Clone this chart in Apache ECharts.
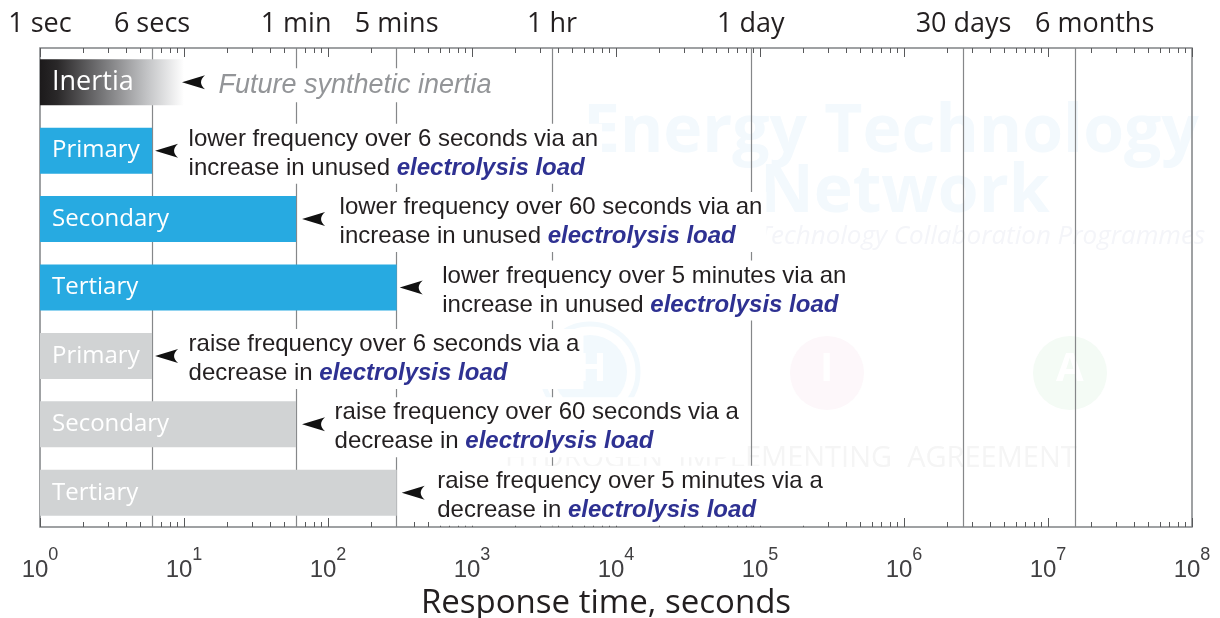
<!DOCTYPE html>
<html><head><meta charset="utf-8">
<script src="https://cdn.jsdelivr.net/npm/echarts@6/dist/echarts.min.js"></script>
<style>html,body{margin:0;padding:0;background:#fff}#c{width:1220px;height:618px}</style>
</head><body><div id="c"></div>
<script>
// ---------- data ----------
const rowKeys = ['inertia','upPrimary','upSecondary','upTertiary','downPrimary','downSecondary','downTertiary'];
const barNames = ['Inertia','Primary','Secondary','Tertiary','Primary','Secondary','Tertiary'];
const durations = [10, 6, 60, 300, 6, 60, 300];            // seconds
const groups = ['inertia','lower','lower','lower','raise','raise','raise'];
const noteLine1 = [
  'Future synthetic inertia',
  'lower frequency over 6 seconds via an',
  'lower frequency over 60 seconds via an',
  'lower frequency over 5 minutes via an',
  'raise frequency over 6 seconds via a',
  'raise frequency over 60 seconds via a',
  'raise frequency over 5 minutes via a'
];
const noteLine2 = ['', 'increase in unused ', 'increase in unused ', 'increase in unused ', 'decrease in ', 'decrease in ', 'decrease in '];
const noteEmph = ['', 'electrolysis load', 'electrolysis load', 'electrolysis load', 'electrolysis load', 'electrolysis load', 'electrolysis load'];
const milestoneSeconds = [1, 6, 60, 300, 3600, 86400, 2592000, 15552000];
const milestoneNames = ['1 sec','6 secs','1 min','5 mins','1 hr','1 day','30 days','6 months'];
const decadeTicks = [1, 10, 100, 1e3, 1e4, 1e5, 1e6, 1e7, 1e8];
const minorTicks = [];
for (let k = 0; k < 8; k++) for (let m = 2; m <= 9; m++) minorTicks.push(m * Math.pow(10, k));

// ---------- layout (pixels) ----------
const arrowShift = [-2, 3, 6, 3, 3, 6, 5];
const noteShift = [30, 32, 39, 41, 32, 34, 36];
const milestoneLabelPad = [0, 0, 0, 0, 0, 0, 0, 38];

const BLUE = '#27aae1', GRAY = '#d1d3d4', INK = '#231f20';
const chart = echarts.init(document.getElementById('c'), null, {renderer: 'canvas'});

function barColor(i) {
  if (groups[i] === 'inertia') {
    return new echarts.graphic.LinearGradient(0, 0, 1, 0, [
      {offset: 0, color: '#1c1a1b'}, {offset: 0.12, color: '#2a2829'},
      {offset: 0.45, color: '#7a7a7c'}, {offset: 0.75, color: '#c4c5c7'},
      {offset: 1, color: '#ffffff'}]);
  }
  return groups[i] === 'lower' ? BLUE : GRAY;
}
function noteText(i) {
  if (groups[i] === 'inertia') return '{f|' + noteLine1[i] + '}';
  return '{n|' + noteLine1[i] + '}\n{n|' + noteLine2[i] + '}{e|' + noteEmph[i] + '}';
}
function milestoneIndex(v) {
  let best = 0, bd = Infinity;
  milestoneSeconds.forEach((m, i) => { const d = Math.abs(Math.log10(m) - Math.log10(v)); if (d < bd) { bd = d; best = i; } });
  return best;
}
const arrowPath = 'path://M0,7 L23,0 Q15,7 23,14 Z';
const axisBase = {type: 'log', logBase: 10, min: 1, max: 1e8, interval: 1, gridIndex: 0,
  axisLine: {show: false, onZero: false}, splitLine: {show: false}};

const wmBlue = '#f3f9fd';
const option = {
  backgroundColor: '#fff',
  animation: false,
  graphic: {elements: [
    {type: 'text', z: -10, left: 583, top: 100, style: {text: 'Energy Technology', font: 'bold 66px "Open Sans"', fill: wmBlue}},
    {type: 'text', z: -10, left: 760, top: 160, style: {text: 'Network', font: 'bold 66px "Open Sans"', fill: wmBlue}},
    {type: 'text', z: -10, left: 758, top: 224, style: {text: 'Technology Collaboration Programmes', font: 'italic 26px "Open Sans"', fill: '#f4f5f9'}},
    {type: 'circle', z: -10, shape: {cx: 590, cy: 372, r: 37}, style: {fill: '#f2f9fd'}},
    {type: 'circle', z: -10, shape: {cx: 590, cy: 372, r: 48}, style: {fill: 'none', stroke: '#f2f9fd', lineWidth: 5}},
    {type: 'circle', z: -10, shape: {cx: 827, cy: 373, r: 37}, style: {fill: '#fdf7fa'}},
    {type: 'circle', z: -10, shape: {cx: 1070, cy: 373, r: 37}, style: {fill: '#f4fbf5'}},
    {type: 'text', z: -9, left: 576, top: 350, style: {text: 'H', font: 'bold 40px "Open Sans"', fill: '#fff'}},
    {type: 'text', z: -9, left: 820, top: 350, style: {text: 'I', font: 'bold 40px "Open Sans"', fill: '#fff'}},
    {type: 'text', z: -9, left: 1056, top: 350, style: {text: 'A', font: 'bold 40px "Open Sans"', fill: '#fff'}},
    {type: 'text', z: -10, left: 505, top: 444, style: {text: 'HYDROGEN  IMPLEMENTING  AGREEMENT', font: '29px "Open Sans"', fill: '#f5f5f5'}}
  ]},
  grid: {left: 40, right: 28, top: 48, bottom: 91, show: true, borderColor: '#808285', borderWidth: 1.5,
    backgroundColor: 'transparent', containLabel: false, outerBoundsMode: 'none'},
  xAxis: [
    Object.assign({}, axisBase, {
      position: 'bottom',
      axisTick: {show: true, inside: true, length: 9, lineStyle: {color: '#58595b', width: 1}},
      axisLabel: {show: true, margin: 19, formatter: v => '{b|10}{s|' + Math.round(Math.log10(v)) + '}',
        rich: {
          b: {fontFamily: '"Liberation Sans", Arial', fontSize: 24, color: '#414042', lineHeight: 36, verticalAlign: 'bottom'},
          s: {fontFamily: '"Liberation Sans", Arial', fontSize: 18, color: '#414042', lineHeight: 12, verticalAlign: 'top'}
        }},
      name: 'Response time, seconds', nameLocation: 'middle', nameGap: 49,
      nameTextStyle: {fontFamily: '"Open Sans"', fontSize: 33, color: INK, padding: [0, 20, 0, 0]}
    }),
    Object.assign({}, axisBase, {
      position: 'bottom',
      axisTick: {show: true, inside: true, length: 5, customValues: minorTicks, lineStyle: {color: '#58595b', width: 1}},
      axisLabel: {show: false}
    }),
    Object.assign({}, axisBase, {
      position: 'top',
      axisTick: {show: true, inside: true, length: 9, customValues: decadeTicks, lineStyle: {color: '#58595b', width: 1}},
      axisLabel: {show: true, margin: 10, customValues: milestoneSeconds,
        formatter: v => { const i = milestoneIndex(v); return milestoneLabelPad[i] ? '{w|' + milestoneNames[i] + '}' : milestoneNames[i]; },
        fontFamily: '"Open Sans"', fontSize: 27, color: INK,
        rich: {w: {fontFamily: '"Open Sans"', fontSize: 27, color: INK, padding: [0, 0, 0, 38]}}}
    }),
    Object.assign({}, axisBase, {
      position: 'top',
      axisTick: {show: true, inside: true, length: 5, customValues: minorTicks, lineStyle: {color: '#58595b', width: 1}},
      axisLabel: {show: false}
    })
  ],
  yAxis: {type: 'category', inverse: true, data: rowKeys, show: false, gridIndex: 0},
  series: [
    {
      type: 'bar', xAxisIndex: 0, yAxisIndex: 0, barWidth: 46, z: 2,
      data: durations.map((v, i) => ({value: v, itemStyle: {color: barColor(i)}, label: {fontSize: i === 0 ? 27 : 24}})),
      label: {show: true, position: 'insideLeft', distance: 12, color: '#fff', fontFamily: '"Open Sans"', fontSize: 24,
        formatter: p => barNames[p.dataIndex]},
      markLine: {silent: true, symbol: 'none', z: 1, animation: false, label: {show: false},
        lineStyle: {color: '#858789', width: 1.2, type: 'solid'},
        data: milestoneSeconds.slice(1).map(v => ({xAxis: v}))}
    },
    {
      type: 'scatter', xAxisIndex: 0, yAxisIndex: 0, z: 3, silent: true,
      symbol: arrowPath, symbolSize: [23, 14],
      itemStyle: {color: '#111', opacity: 1},
      data: durations.map((v, i) => ({value: [v, i], symbolOffset: [arrowShift[i] + 11.5, 0]}))
    },
    {
      type: 'scatter', xAxisIndex: 0, yAxisIndex: 0, z: 4, silent: true,
      symbolSize: 1, itemStyle: {color: 'rgba(0,0,0,0)', opacity: 1},
      data: durations.map((v, i) => ({value: [v, i], label: {offset: [noteShift[i], 3]}})),
      label: {show: true, position: 'right', distance: 0, backgroundColor: '#fff', padding: [1, 4],
        formatter: p => noteText(p.dataIndex),
        rich: {
          n: {fontFamily: '"Liberation Sans", Arial', fontSize: 24, color: INK, lineHeight: 29},
          e: {fontFamily: '"Liberation Sans", Arial', fontSize: 24, fontWeight: 'bold', fontStyle: 'italic', color: '#2e3192', lineHeight: 29},
          f: {fontFamily: '"Liberation Sans", Arial', fontSize: 27, fontStyle: 'italic', color: '#939598', lineHeight: 32}
        }}
    }
  ]
};
chart.setOption(option);
</script>
</body></html>
